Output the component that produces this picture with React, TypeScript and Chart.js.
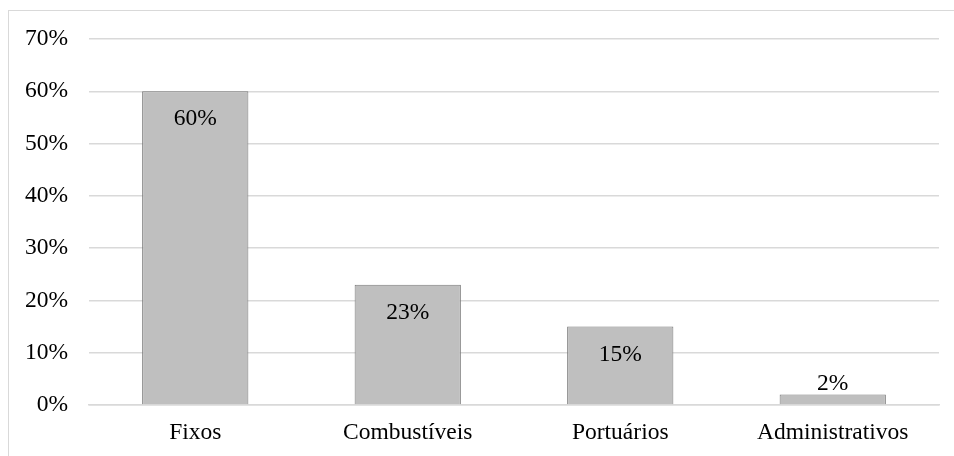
import React, { useEffect, useRef } from "react";
import { Chart, registerables } from "chart.js";

Chart.register(...registerables);

const categories = ["Fixos", "Combustíveis", "Portuários", "Administrativos"];
const values = [60, 23, 15, 2];
const yTicks = [0, 10, 20, 30, 40, 50, 60, 70];

const FONT = "'Liberation Serif', 'Times New Roman', serif";
const FONT_SIZE = 23.5;

const labelPlugin = {
  id: "barLabels",
  afterDatasetsDraw(chart: any) {
    const ctx = chart.ctx;
    const meta = chart.getDatasetMeta(0);
    ctx.save();
    ctx.font = `${FONT_SIZE}px ${FONT}`;
    ctx.fillStyle = "#000000";
    ctx.textAlign = "center";
    ctx.textBaseline = "middle";
    meta.data.forEach((bar: any, i: number) => {
      const v = chart.data.datasets[0].data[i];
      const h = bar.base - bar.y;
      const y = h > 40 ? bar.y + 28 : bar.y - 11;
      ctx.fillText(`${v}%`, bar.x, y);
    });
    ctx.restore();
  },
};

export default function App() {
  const ref = useRef<HTMLCanvasElement>(null);
  useEffect(() => {
    const chart = new Chart(ref.current!, {
      type: "bar",
      data: {
        labels: categories,
        datasets: [
          {
            data: values,
            backgroundColor: "#bfbfbf",
            borderColor: "#7a7a7a",
            borderWidth: 1,
            barPercentage: 0.5,
            categoryPercentage: 1,
          },
        ],
      },
      options: {
        animation: false,
        responsive: false,
        maintainAspectRatio: false,
        layout: { padding: { top: 28, right: 15, left: 0, bottom: 0 } },
        plugins: { legend: { display: false }, tooltip: { enabled: false } },
        scales: {
          x: {
            grid: { display: false, drawTicks: false },
            border: { display: true, color: "#d9d9d9", width: 1.5 },
            ticks: {
              color: "#000000",
              font: { family: FONT, size: FONT_SIZE },
              padding: 14,
            },
            afterFit(scale: any) {
              scale.height = 51;
              scale.paddingLeft = 0;
              scale.paddingRight = 0;
            },
          },
          y: {
            min: 0,
            max: 70,
            afterBuildTicks(scale: any) {
              scale.ticks = yTicks.map((v) => ({ value: v }));
            },
            grid: { color: "#d9d9d9", lineWidth: 1.5, drawTicks: false },
            border: { display: false },
            ticks: {
              color: "#000000",
              font: { family: FONT, size: FONT_SIZE },
              padding: 21,
              callback: (v: any) => `${v}%`,
            },
            afterFit(scale: any) {
              scale.width = 80;
              scale.paddingTop = 0;
              scale.paddingBottom = 0;
            },
          },
        },
      },
      plugins: [labelPlugin],
    });
    return () => chart.destroy();
  }, []);
  return (
    <div
      style={{
        position: "absolute",
        left: 8,
        top: 10,
        width: 960,
        height: 460,
        border: "1px solid #d9d9d9",
        boxSizing: "border-box",
        background: "#ffffff",
      }}
    >
      <canvas ref={ref} width={945} height={445} style={{ display: "block" }} />
    </div>
  );
}
